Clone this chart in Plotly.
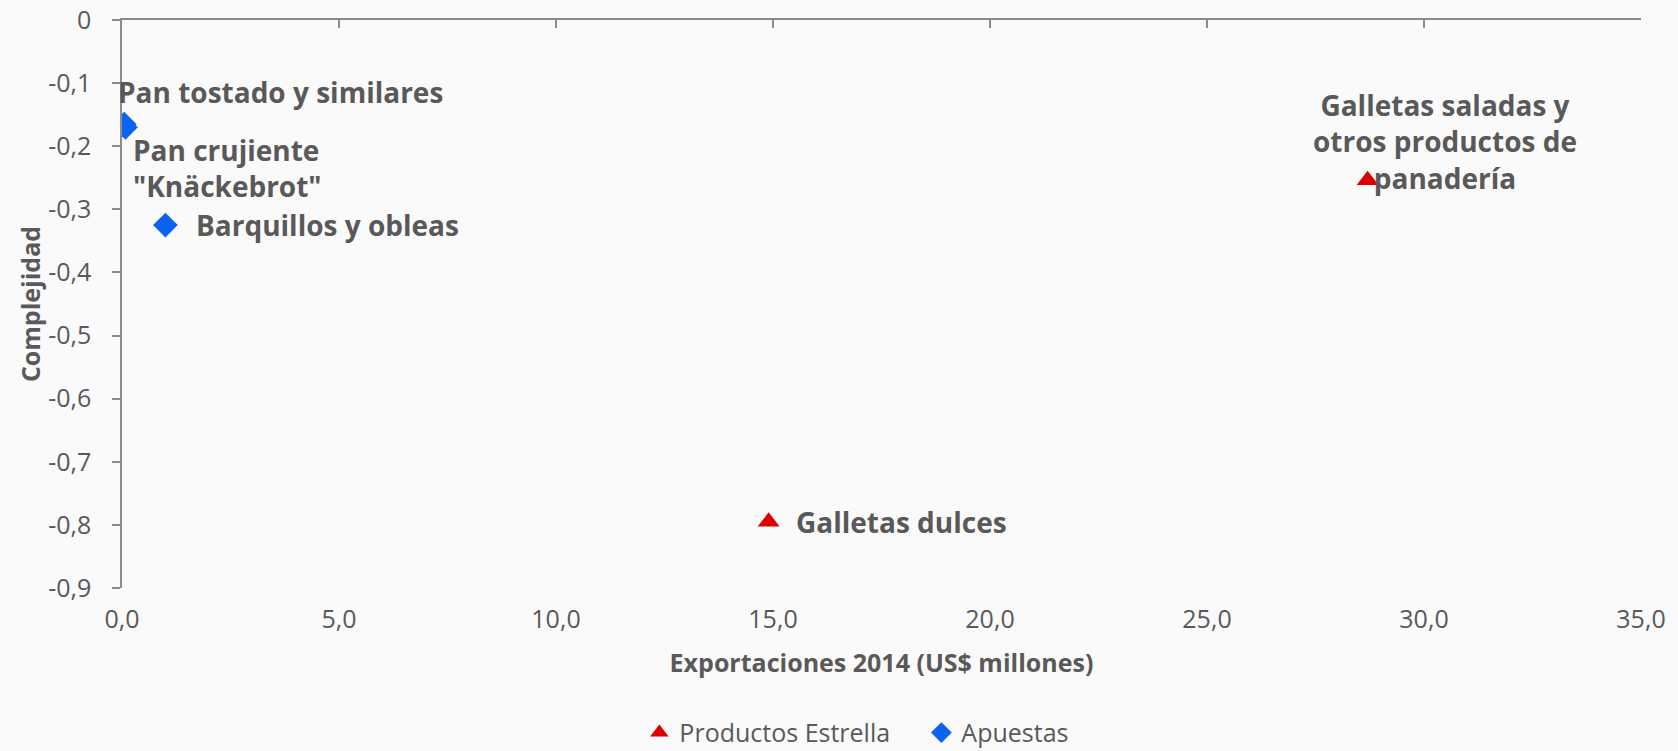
import plotly.graph_objects as go

# Data
estrella_names = ["Galletas dulces", "Galletas saladas y<br>otros productos de<br>panadería"]
estrella_x = [14.9, 28.7]
estrella_y = [-0.795, -0.254]

apuestas_names = ["Pan tostado y similares", "Pan crujiente<br>\"Knäckebrot\"", "Barquillos y obleas"]
apuestas_x = [0.05, 0.08, 1.0]
apuestas_y = [-0.165, -0.17, -0.325]

x_ticks = [0, 5, 10, 15, 20, 25, 30, 35]
x_ticktext = ["0,0", "5,0", "10,0", "15,0", "20,0", "25,0", "30,0", "35,0"]
y_ticks = [0, -0.1, -0.2, -0.3, -0.4, -0.5, -0.6, -0.7, -0.8, -0.9]
y_ticktext = ["0", "-0,1", "-0,2", "-0,3", "-0,4", "-0,5", "-0,6", "-0,7", "-0,8", "-0,9"]

# label placement (styling): xshift, yshift, xanchor, align
estrella_label_style = [(25, 0, "left", "left"), (77, 39, "center", "center")]
apuestas_label_style = [(-8, 32, "left", "left"), (6, -41, "left", "left"), (29, 0, "left", "left")]

GRAY = "#595959"
AXIS = "#8c8c8c"
RED = "#dd0000"
BLUE = "#0a64f0"
FONT = "'Open Sans', 'Noto Sans', sans-serif"

fig = go.Figure()
fig.add_trace(go.Scatter(
    x=estrella_x, y=estrella_y, mode="markers", name="Productos Estrella",
    marker=dict(symbol="triangle-up", size=19, color=RED),
    hoverinfo="skip"))
fig.add_trace(go.Scatter(
    x=apuestas_x, y=apuestas_y, mode="markers", name="Apuestas",
    marker=dict(symbol="diamond", size=19, color=BLUE),
    hoverinfo="skip"))

# invisible trace to drive the top axis line
fig.add_trace(go.Scatter(x=[0, 35], y=[0, 0], xaxis="x2", mode="markers",
                         marker=dict(opacity=0), showlegend=False, hoverinfo="skip"))

annotations = []
for name, x, y, st in list(zip(estrella_names, estrella_x, estrella_y, estrella_label_style)) + \
        list(zip(apuestas_names, apuestas_x, apuestas_y, apuestas_label_style)):
    xs, ys, xa, al = st
    annotations.append(dict(x=x, y=y, xref="x", yref="y", text=name, showarrow=False,
                            xshift=xs, yshift=ys, xanchor=xa, yanchor="middle", align=al,
                            font=dict(family=FONT, size=28, color=GRAY, weight="bold")))

fig.update_layout(
    width=1678, height=751,
    margin=dict(l=122, r=37, t=20, b=163, autoexpand=False),
    paper_bgcolor="#fafafa", plot_bgcolor="rgba(0,0,0,0)",
    font=dict(family=FONT, color=GRAY),
    showlegend=True,
    legend=dict(orientation="h", x=0.3406, xanchor="left", y=-0.255, yanchor="middle",
                font=dict(size=25, color=GRAY), itemwidth=30, tracegroupgap=0,
                entrywidth=237, bgcolor="rgba(0,0,0,0)"),
    annotations=annotations,
    xaxis=dict(range=[0, 35], tickvals=x_ticks, ticktext=x_ticktext, showline=False,
               showgrid=False, zeroline=False, ticks="", ticklabelstandoff=14,
               automargin=False, tickfont=dict(size=25, color=GRAY),
               title=dict(text="Exportaciones 2014 (US$ millones)",
                          font=dict(size=25, color=GRAY, weight="bold"), standoff=20)),
    xaxis2=dict(range=[0, 35], overlaying="x", side="top", tickvals=x_ticks,
                showticklabels=False, showline=True, linecolor=AXIS, linewidth=1.5,
                ticks="inside", ticklen=8, tickcolor=AXIS, tickwidth=1.5,
                showgrid=False, zeroline=False, automargin=False),
    yaxis=dict(range=[-0.9, 0], tickvals=y_ticks, ticktext=y_ticktext, showline=True,
               linecolor=AXIS, linewidth=1.5, ticks="outside", ticklen=8, tickcolor=AXIS,
               tickwidth=1.5, showgrid=False, zeroline=False, ticklabelstandoff=16,
               automargin=False, tickfont=dict(size=25, color=GRAY),
               title=dict(text="Complejidad", font=dict(size=25, color=GRAY, weight="bold"),
                          standoff=0)),
)

fig.write_html("out.html", config={"displayModeBar": False},
               post_script="document.body.style.margin='0';")
